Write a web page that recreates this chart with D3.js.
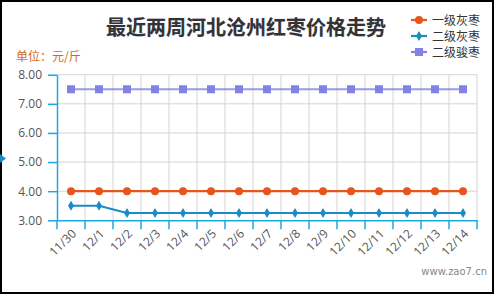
<!DOCTYPE html>
<html>
<head>
<meta charset="utf-8">
<script src="https://cdn.jsdelivr.net/npm/d3@7"></script>
<style>
html,body{margin:0;padding:0;background:#fff;}
svg{display:block;font-family:"Noto Sans CJK SC","Microsoft YaHei",sans-serif;}
</style>
</head>
<body>
<svg id="chart" width="495" height="295"></svg>
<script>
const categories = ["11/30","12/1","12/2","12/3","12/4","12/5","12/6","12/7","12/8","12/9","12/10","12/11","12/12","12/13","12/14"];
const grade1Grey = [4.00,4.00,4.00,4.00,4.00,4.00,4.00,4.00,4.00,4.00,4.00,4.00,4.00,4.00,4.00];
const grade2Grey = [3.50,3.50,3.25,3.25,3.25,3.25,3.25,3.25,3.25,3.25,3.25,3.25,3.25,3.25,3.25];
const grade2Jun  = [7.50,7.50,7.50,7.50,7.50,7.50,7.50,7.50,7.50,7.50,7.50,7.50,7.50,7.50,7.50];
const yTicks = [3,4,5,6,7,8];
const seriesNames = ["一级灰枣","二级灰枣","二级骏枣"];
const title = "最近两周河北沧州红枣价格走势";
const unitLabel = "单位：元/斤";
const watermark = "www.zao7.cn";

const series = [
  {name: seriesNames[0], values: grade1Grey, color: "#e8541e", symbol: d3.symbolCircle, size: 50},
  {name: seriesNames[1], values: grade2Grey, color: "#1a8cc4", symbol: d3.symbolDiamond, size: 30},
  {name: seriesNames[2], values: grade2Jun,  color: "#8181e6", symbol: d3.symbolSquare, size: 64}
];

const svg = d3.select("#chart");
const W = 495, H = 295;
const x = d3.scaleBand().domain(categories).range([57, 477]);
const y = d3.scaleLinear().domain([3, 8]).range([220.3, 74.7]);
const axisColor = "#1ba9e1";

// border
svg.append("rect").attr("x",1).attr("y",1).attr("width",W-3).attr("height",H-3)
  .attr("fill","#fff").attr("stroke","#000").attr("stroke-width",2);

// grid
const g = svg.append("g");
g.selectAll("line.hg").data(yTicks.slice(1)).join("line")
  .attr("x1",57).attr("x2",477).attr("y1",d=>y(d)).attr("y2",d=>y(d))
  .attr("stroke","#d4d4d4").attr("stroke-width",1);
g.selectAll("line.vg").data(categories.slice(1).concat(["__end"])).join("line")
  .attr("x1",(d,i)=> i < categories.length-1 ? x(categories[i+1]) : 477)
  .attr("x2",(d,i)=> i < categories.length-1 ? x(categories[i+1]) : 477)
  .attr("y1",y(8)).attr("y2",y(3))
  .attr("stroke","#d4d4d4").attr("stroke-width",1);

// y axis
const yAxis = svg.append("g").attr("transform","translate(57,0)")
  .call(d3.axisLeft(y).tickValues(yTicks).tickFormat(d3.format(".2f")).tickSize(9).tickSizeOuter(0));
yAxis.select(".domain").attr("stroke",axisColor).attr("stroke-width",1.5);
yAxis.selectAll(".tick line").attr("stroke",axisColor).attr("stroke-width",1.5);
yAxis.selectAll(".tick text").attr("fill","#555").attr("font-size","12px")
  .attr("font-family","'Open Sans',sans-serif").attr("x",-15);

// x axis
const xAxis = svg.append("g").attr("transform",`translate(0,${y(3)})`)
  .call(d3.axisBottom(x).tickSize(9).tickSizeOuter(0));
xAxis.select(".domain").attr("stroke",axisColor).attr("stroke-width",1.5);
xAxis.selectAll(".tick line").attr("stroke",axisColor).attr("stroke-width",1.5)
  .attr("transform",`translate(${-x.bandwidth()/2},0)`);
xAxis.append("line").attr("x1",477).attr("x2",477).attr("y1",0).attr("y2",9)
  .attr("stroke",axisColor).attr("stroke-width",1.5);
xAxis.selectAll(".tick text").attr("fill","#555").attr("font-size","12px")
  .attr("font-family","'Open Sans',sans-serif")
  .attr("text-anchor","end").attr("dy",null).attr("y",0)
  .attr("transform","translate(6,14) rotate(-45)");

// lines + markers
const cx = d => x(d) + x.bandwidth()/2;
series.forEach(s => {
  const line = d3.line().x((v,i)=>cx(categories[i])).y(v=>y(v));
  svg.append("path").datum(s.values).attr("d",line).attr("fill","none")
    .attr("stroke",s.color).attr("stroke-width",2.2)
    .attr("stroke-opacity", s.symbol===d3.symbolSquare ? 0.8 : 1);
  svg.append("g").selectAll("path").data(s.values).join("path")
    .attr("d",d3.symbol().type(s.symbol).size(s.size))
    .attr("transform",(v,i)=>`translate(${cx(categories[i])},${y(v)})`)
    .attr("fill",s.color);
});

// title
svg.append("text").attr("x",246).attr("y",35).attr("text-anchor","middle")
  .attr("font-size","20px").attr("font-weight","bold").attr("fill","#333")
  .style("paint-order","stroke").attr("stroke","rgba(80,80,160,0.25)").attr("stroke-width",0.6)
  .text(title);

// unit label
svg.append("text").attr("x",16).attr("y",61).attr("font-size","12px").attr("fill","#d2691e")
  .text(unitLabel);

// legend
const leg = svg.append("g");
series.forEach((s,i) => {
  const ly = 20 + i*16;
  leg.append("line").attr("x1",411).attr("x2",427).attr("y1",ly).attr("y2",ly)
    .attr("stroke",s.color).attr("stroke-width",2.2);
  leg.append("path").attr("d",d3.symbol().type(s.symbol).size(s.size))
    .attr("transform",`translate(419,${ly})`).attr("fill",s.color);
  leg.append("text").attr("x",432).attr("y",ly+4.5).attr("font-size","12px").attr("fill","#333")
    .text(s.name);
});

// left triangle indicator
svg.append("path").attr("d","M0,154 L6,158.5 L0,163 Z").attr("fill","#1a8cc4");

// watermark
svg.append("text").attr("x",487).attr("y",275).attr("text-anchor","end")
  .attr("font-size","10px").attr("fill","#888").attr("font-family","'DejaVu Sans',sans-serif")
  .text(watermark);
</script>
</body>
</html>
